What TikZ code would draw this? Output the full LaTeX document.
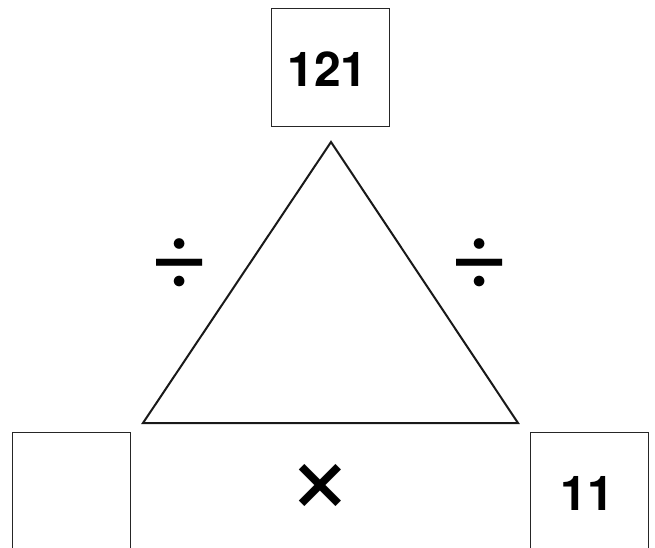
\documentclass[tikz,border=0pt]{standalone}
\usepackage{fontspec}
\setmainfont{TeX Gyre Heros}
\begin{document}
\begin{tikzpicture}[x=1pt,y=-1pt,
  numtext/.style={inner sep=0pt,font=\fontsize{48}{48}\selectfont\bfseries},
  divtext/.style={inner sep=0pt,font=\fontsize{103}{103}\selectfont},
  timestext/.style={inner sep=0pt,font=\fontsize{116}{116}\selectfont},
  boxline/.style={draw=black!85,line width=1pt},
  triline/.style={draw=black!90,line width=2pt,line join=miter}]
\useasboundingbox (0,0) rectangle (655,548);
\fill[white] (0,0) rectangle (655,548);
\begin{scope}
\clip (0,0) rectangle (655,548);
\draw[boxline] (271,9) rectangle (389,127);
\draw[boxline] (12,560) -- (12,432) -- (130,432) -- (130,560);
\draw[boxline] (530,560) -- (530,432) -- (648,432) -- (648,560);
\end{scope}
\coordinate (apex) at (331,142);
\coordinate (bl) at (143,423);
\coordinate (br) at (518,423);
\draw[triline] (apex) -- (bl) -- (br) -- cycle;
\node[numtext] (top) at (327.5,69.5) {121};
\node[numtext] (right) at (587.5,493.5) {11};
\node[divtext] (divl) at (180,264) {÷};
\node[divtext] (divr) at (480,264) {÷};
\node[timestext] (times) at (320,489.5) {×};
\end{tikzpicture}
\end{document}
